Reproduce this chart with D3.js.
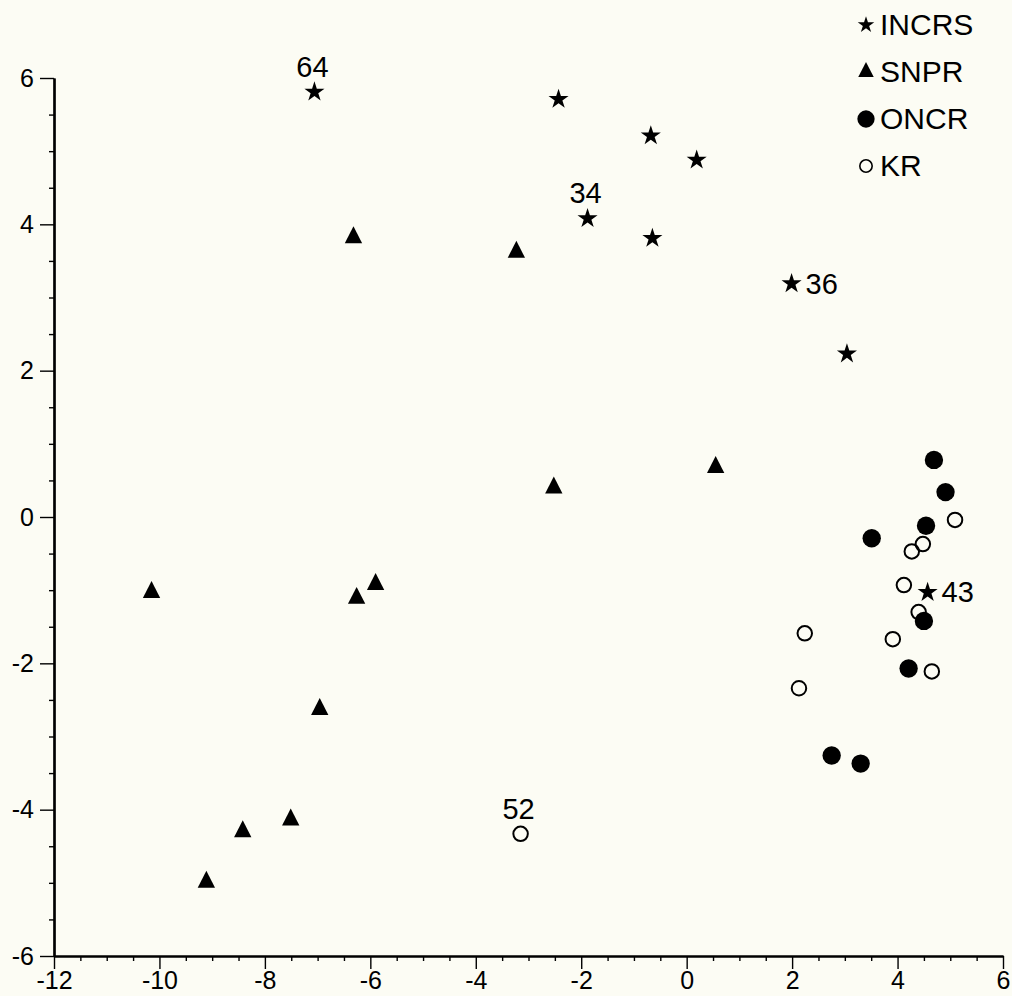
<!DOCTYPE html>
<html>
<head>
<meta charset="utf-8">
<script src="https://cdn.jsdelivr.net/npm/d3@7"></script>
<style>
  body { margin: 0; background: #fcfcf4; }
  svg { display: block; font-family: "Liberation Sans", Arial, Helvetica, sans-serif; }
</style>
</head>
<body>
<script>
// series values
const incrsX = [-7.06, -2.43, -0.68, 0.19, -1.88, -0.65, 1.99, 3.04, 4.57];
const incrsY = [5.81, 5.71, 5.21, 4.88, 4.08, 3.81, 3.19, 2.23, -1.03];

const snprX = [-6.32, -3.23, 0.55, -2.52, -10.15, -5.90, -6.26, -6.96, -8.42, -7.51, -9.11];
const snprY = [3.82, 3.62, 0.68, 0.40, -1.03, -0.92, -1.11, -2.63, -4.30, -4.14, -4.99];

const oncrX = [4.69, 4.91, 4.54, 3.51, 4.50, 4.21, 2.75, 3.30];
const oncrY = [0.78, 0.34, -0.12, -0.29, -1.42, -2.07, -3.26, -3.37];

const krX = [5.09, 4.48, 4.27, 4.12, 4.40, 3.91, 4.65, 2.24, 2.13, -3.15];
const krY = [-0.04, -0.37, -0.47, -0.93, -1.30, -1.67, -2.11, -1.59, -2.34, -4.33];

// labelled specimens: text, series, index into that series
const labelText = ["64", "34", "36", "43", "52"];
const labelSeries = ["INCRS", "INCRS", "INCRS", "INCRS", "KR"];
const labelIndex = [0, 4, 6, 8, 9];

const xTicks = [-12, -10, -8, -6, -4, -2, 0, 2, 4, 6];
const yTicks = [-6, -4, -2, 0, 2, 4, 6];
const seriesNames = ["INCRS", "SNPR", "ONCR", "KR"];

const WIDTH = 1012;
const HEIGHT = 996;

const svg = d3.select('body')
  .append('svg')
  .attr('width', WIDTH)
  .attr('height', HEIGHT);

svg.append('rect')
  .attr('width', WIDTH)
  .attr('height', HEIGHT)
  .attr('fill', '#fcfcf4');

const x = d3.scaleLinear().domain([-12, 6]).range([54, 1003]);
const y = d3.scaleLinear().domain([-6, 6]).range([956, 78]);

// minor ticks every 0.5
const xMinor = d3.range(-12, 6.01, 0.5).filter(v => v % 2 !== 0);
const yMinor = d3.range(-6, 6.01, 0.5).filter(v => v % 2 !== 0);

function styleAxis(g) {
  g.attr('font-size', null).attr('font-family', null);
  g.selectAll('.domain').attr('stroke', '#000').attr('stroke-width', 2.2);
  g.selectAll('.tick line').attr('stroke', '#000').attr('stroke-width', 1.4);
  g.selectAll('.tick text')
    .attr('fill', '#000')
    .style('font-size', '25px')
    .style('font-family', '"Liberation Sans", Arial, Helvetica, sans-serif');
}

svg.append('g')
  .attr('transform', 'translate(0,' + y(-6) + ')')
  .call(d3.axisBottom(x).tickValues(xMinor).tickSize(5).tickSizeOuter(0).tickFormat(''))
  .call(styleAxis);

svg.append('g')
  .attr('transform', 'translate(' + x(-12) + ',0)')
  .call(d3.axisLeft(y).tickValues(yMinor).tickSize(5).tickSizeOuter(0).tickFormat(''))
  .call(styleAxis);

svg.append('g')
  .attr('transform', 'translate(0,' + y(-6) + ')')
  .call(d3.axisBottom(x).tickValues(xTicks).tickSize(13).tickSizeOuter(0).tickPadding(2).tickFormat(d3.format('d')))
  .call(styleAxis);

svg.append('g')
  .attr('transform', 'translate(' + x(-12) + ',0)')
  .call(d3.axisLeft(y).tickValues(yTicks).tickSize(14).tickSizeOuter(0).tickPadding(6).tickFormat(d3.format('d')))
  .call(styleAxis);

// use ascii hyphen-minus like the original
svg.selectAll('.tick text').text(function() { return this.textContent.replace('\u2212', '-'); });

// symbols
const triangleTall = {
  draw: function(context, size) {
    const w = Math.sqrt(size);
    const h = w * 0.98;
    context.moveTo(0, -h * 2 / 3);
    context.lineTo(w / 2, h / 3);
    context.lineTo(-w / 2, h / 3);
    context.closePath();
  }
};

const symbolStyle = {
  INCRS: { type: d3.symbolStar, size: 125, legendSize: 85, fill: '#000', stroke: 'none' },
  SNPR: { type: triangleTall, size: 300, legendSize: 240, fill: '#000', stroke: 'none' },
  ONCR: { type: d3.symbolCircle, size: 265, legendSize: 235, fill: '#000', stroke: 'none' },
  KR: { type: d3.symbolCircle, size: 165, legendSize: 120, fill: 'none', stroke: '#000' }
};

const seriesData = {
  INCRS: incrsX.map((v, i) => ({ x: v, y: incrsY[i] })),
  SNPR: snprX.map((v, i) => ({ x: v, y: snprY[i] })),
  ONCR: oncrX.map((v, i) => ({ x: v, y: oncrY[i] })),
  KR: krX.map((v, i) => ({ x: v, y: krY[i] }))
};

seriesNames.forEach(function(name) {
  const st = symbolStyle[name];
  svg.append('g')
    .selectAll('path')
    .data(seriesData[name])
    .enter()
    .append('path')
    .attr('transform', d => 'translate(' + x(d.x) + ',' + y(d.y) + ')')
    .attr('d', d3.symbol().type(st.type).size(st.size))
    .attr('fill', st.fill)
    .attr('stroke', st.stroke)
    .attr('stroke-width', 2);
});

// specimen labels
const labelSide = { '64': 'above', '34': 'above', '52': 'above', '36': 'right', '43': 'right' };

labelText.forEach(function(t, i) {
  const p = seriesData[labelSeries[i]][labelIndex[i]];
  const side = labelSide[t];
  svg.append('text')
    .attr('x', side === 'above' ? x(p.x) - 2 : x(p.x) + 14)
    .attr('y', side === 'above' ? y(p.y) - 15 : y(p.y) + 10)
    .attr('text-anchor', side === 'above' ? 'middle' : 'start')
    .attr('font-size', '29px')
    .attr('fill', '#000')
    .text(t);
});

// legend
const legend = svg.append('g');
seriesNames.forEach(function(name, i) {
  const st = symbolStyle[name];
  const ly = 35 + i * 47;
  legend.append('path')
    .attr('transform', 'translate(866,' + (ly - 10) + ')')
    .attr('d', d3.symbol().type(st.type).size(st.legendSize))
    .attr('fill', st.fill)
    .attr('stroke', st.stroke)
    .attr('stroke-width', 1.6);
  legend.append('text')
    .attr('x', 880)
    .attr('y', ly)
    .attr('font-size', '30px')
    .attr('fill', '#000')
    .text(name);
});
</script>
</body>
</html>
